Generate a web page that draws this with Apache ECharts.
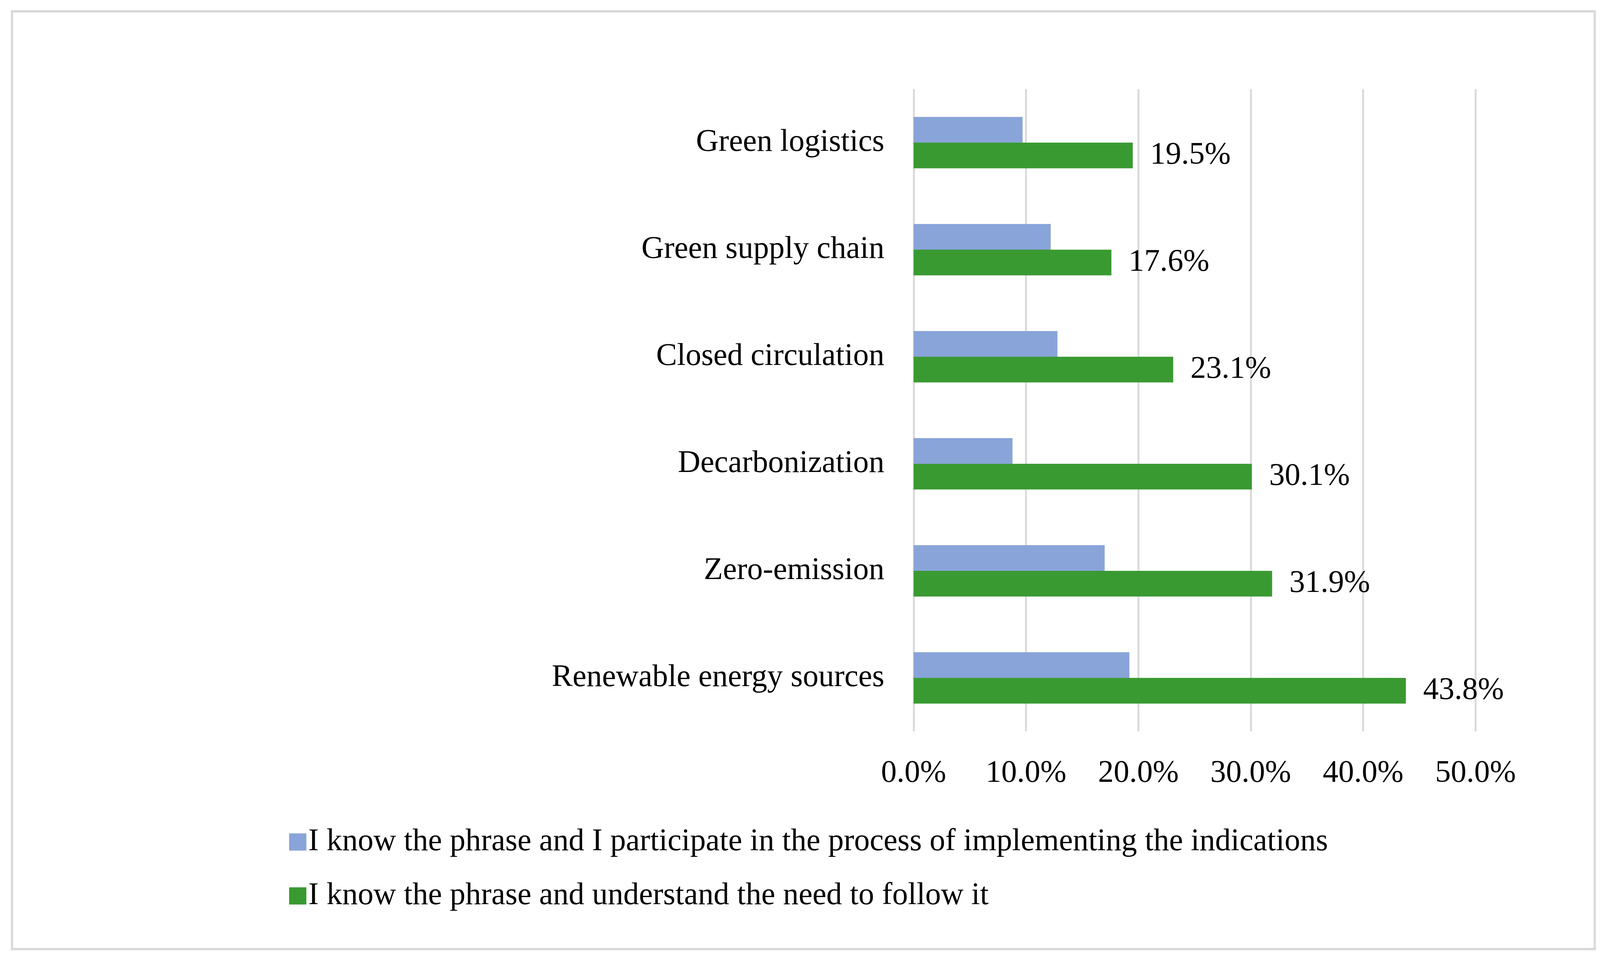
<!DOCTYPE html>
<html>
<head>
<meta charset="utf-8">
<style>
html,body{margin:0;padding:0;background:#fff;overflow:hidden;}
#c{width:100vw;height:100vh;}
</style>
<script src="https://cdn.jsdelivr.net/npm/echarts@6/dist/echarts.min.js"></script>
</head>
<body>
<div id="c"></div>
<script>
const categories = ["Green logistics", "Green supply chain", "Closed circulation", "Decarbonization", "Zero-emission", "Renewable energy sources"];
const participateValues = [9.7, 12.2, 12.8, 8.8, 17.0, 19.2];
const understandValues = [19.5, 17.6, 23.1, 30.1, 31.9, 43.8];
const seriesNames = ["I know the phrase and I participate in the process of implementing the indications", "I know the phrase and understand the need to follow it"];
const xTicks = [0, 10, 20, 30, 40, 50];

const FONT = "'Liberation Serif', 'Times New Roman', serif";
const el = document.getElementById('c');
const chart = echarts.init(el, null, {renderer: 'canvas'});
const W = chart.getWidth(), H = chart.getHeight();
const sx = W / 4268, sy = H / 2457, s = Math.min(sx, sy);
const fs = Math.round(83 * s);

chart.setOption({
  backgroundColor: '#ffffff',
  animation: false,
  graphic: [{
    type: 'rect',
    shape: {x: 32 * sx, y: 29 * sy, width: 4222 * sx, height: 2400 * sy},
    style: {fill: 'none', stroke: '#d9d9d9', lineWidth: 6 * s},
    silent: true
  }],
  grid: {left: 2437 * sx, right: 332 * sx, top: 228 * sy, bottom: 585 * sy, containLabel: false},
  legend: {
    orient: 'vertical',
    left: 766 * sx,
    top: 2110 * sy,
    itemWidth: 46 * s,
    itemHeight: 46 * s,
    itemGap: 58 * sy,
    icon: 'rect',
    textStyle: {fontFamily: FONT, fontSize: fs, color: '#000', lineHeight: 80 * sy},
    data: seriesNames
  },
  xAxis: {
    type: 'value',
    min: xTicks[0],
    max: xTicks[xTicks.length - 1],
    interval: 10,
    axisLine: {show: false},
    axisTick: {show: false},
    splitLine: {show: true, lineStyle: {color: '#d9d9d9', width: 5 * s}},
    axisLabel: {
      margin: 68 * sy,
      fontFamily: FONT, fontSize: fs, color: '#000',
      formatter: v => v.toFixed(1) + '%'
    }
  },
  yAxis: {
    type: 'category',
    inverse: true,
    data: categories,
    axisLine: {show: false},
    axisTick: {show: false},
    axisLabel: {margin: 78 * sx, fontFamily: FONT, fontSize: fs, color: '#000'}
  },
  series: [
    {
      name: seriesNames[0],
      type: 'bar',
      data: participateValues,
      itemStyle: {color: '#89a4d8'},
      barGap: '0%',
      barCategoryGap: '52%'
    },
    {
      name: seriesNames[1],
      type: 'bar',
      data: understandValues,
      itemStyle: {color: '#3a9a32'},
      barGap: '0%',
      barCategoryGap: '52%',
      label: {
        show: true,
        position: 'right',
        distance: 46 * sx,
        fontFamily: FONT, fontSize: fs, color: '#000',
        formatter: p => p.value.toFixed(1) + '%'
      }
    }
  ]
});
</script>
</body>
</html>
